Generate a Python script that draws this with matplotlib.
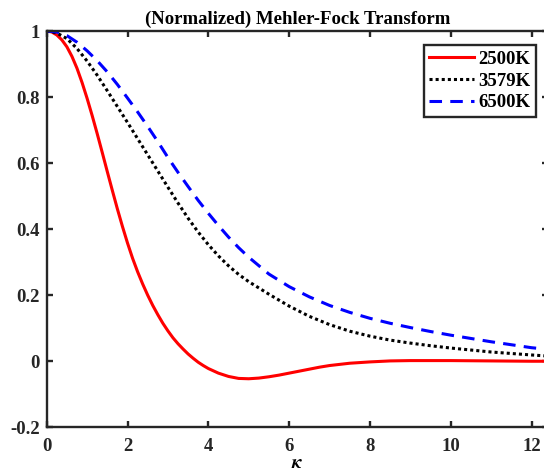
import numpy
import matplotlib
matplotlib.use('Agg')
import matplotlib.pyplot as plt

# values
# 2500K curve is sampled finer, it bends sharply
kappa_2500 = [0, 0.125, 0.25, 0.375, 0.5, 0.625, 0.75, 0.875, 1.0, 1.125, 1.25,
              1.375, 1.5, 1.625, 1.75, 1.875, 2.0, 2.125, 2.25, 2.375, 2.5,
              2.625, 2.75, 2.875, 3.0, 3.125, 3.25, 3.375, 3.5, 3.625, 3.75,
              3.875, 4.0, 4.25, 4.5, 4.75, 5.0, 5.25, 5.5, 5.75, 6.0, 6.25,
              6.5, 6.75, 7.0, 7.5, 8.0, 8.5, 9.0, 10.0, 11.0, 12.0, 12.5]
mf_2500 = [1.0, 0.997, 0.988, 0.973, 0.952, 0.923, 0.887, 0.844, 0.796, 0.744,
           0.689, 0.632, 0.574, 0.517, 0.461, 0.408, 0.358, 0.312, 0.271, 0.234,
           0.200, 0.169, 0.141, 0.115, 0.092, 0.071, 0.053, 0.037, 0.022, 0.009,
           -0.003, -0.013, -0.022, -0.036, -0.046, -0.052, -0.053, -0.051,
           -0.047, -0.042, -0.036, -0.030, -0.024, -0.018, -0.013, -0.006,
           -0.002, 0.001, 0.002, 0.002, 0.001, 0.0, 0.0]

kappa = [0, 0.25, 0.5, 0.75, 1.0, 1.25, 1.5, 1.75, 2.0, 2.25, 2.5, 2.75, 3.0,
         3.25, 3.5, 3.75, 4.0, 4.25, 4.5, 4.75, 5.0, 5.5, 6.0, 6.5, 7.0, 7.5,
         8.0, 8.5, 9.0, 9.5, 10.0, 11.0, 12.0, 12.5]
mf_3579 = [1.0, 0.994, 0.977, 0.947, 0.909, 0.866, 0.819, 0.771, 0.723, 0.674,
           0.625, 0.576, 0.527, 0.479, 0.433, 0.391, 0.353, 0.319, 0.289, 0.263,
           0.241, 0.203, 0.167, 0.136, 0.111, 0.091, 0.076, 0.064, 0.055, 0.047,
           0.040, 0.028, 0.019, 0.015]
mf_6500 = [1.0, 0.997, 0.986, 0.966, 0.940, 0.910, 0.876, 0.838, 0.797, 0.755,
           0.711, 0.665, 0.617, 0.572, 0.529, 0.487, 0.448, 0.411, 0.376, 0.344,
           0.315, 0.264, 0.226, 0.195, 0.169, 0.148, 0.130, 0.115, 0.102, 0.090,
           0.079, 0.059, 0.041, 0.035]

labels = ['2500K', '3579K', '6500K']

plt.rcParams['font.family'] = ['Liberation Serif', 'DejaVu Serif']
plt.rcParams['font.weight'] = 'bold'
plt.rcParams['font.size'] = 13.5
plt.rcParams['mathtext.fontset'] = 'stix'

edge = '#262626'

fig = plt.figure(figsize=(5.44, 4.75), dpi=100)
ax = fig.add_axes([46.7/544, 47.7/475, 501.0/544, 396.3/475])

ax.plot(kappa_2500, mf_2500, color='red', lw=2.2, label=labels[0])
ax.plot(kappa, mf_3579, color='black', lw=2.2, linestyle=(0, (1, 1)), label=labels[1])
ax.plot(kappa, mf_6500, color='blue', lw=2.2, linestyle=(0, (4.1, 2.7)), label=labels[2])

ax.set_xlim(0, 12.4)
ax.set_ylim(-0.2, 1)
ax.set_xticks([0, 2, 4, 6, 8, 10, 12])
ax.set_yticks([-0.2, 0, 0.2, 0.4, 0.6, 0.8, 1])
ax.set_yticklabels(['-0.2', '0', '0.2', '0.4', '0.6', '0.8', '1'])

for s in ax.spines.values():
    s.set_linewidth(1.7)
    s.set_color(edge)
ax.tick_params(direction='in', length=4.3, width=1.7, color=edge,
               top=True, right=True, labelcolor=edge)
ax.tick_params(axis='x', pad=8)
ax.tick_params(axis='y', pad=5)

ax.set_title('(Normalized) Mehler-Fock Transform', fontsize=13.5, fontweight='bold', pad=5)
ax.set_xlabel(r'$\kappa$', fontsize=14, labelpad=0)

leg = ax.legend(loc='upper right', bbox_to_anchor=(535.7/544, 1 - 45.0/475),
                bbox_transform=fig.transFigure, borderaxespad=0,
                handlelength=2.4, handletextpad=0.2, labelspacing=0.25,
                borderpad=0.3, fancybox=False, framealpha=1)
leg.get_frame().set_edgecolor(edge)
leg.get_frame().set_linewidth(1.7)

fig.savefig('out.png', dpi=100)
